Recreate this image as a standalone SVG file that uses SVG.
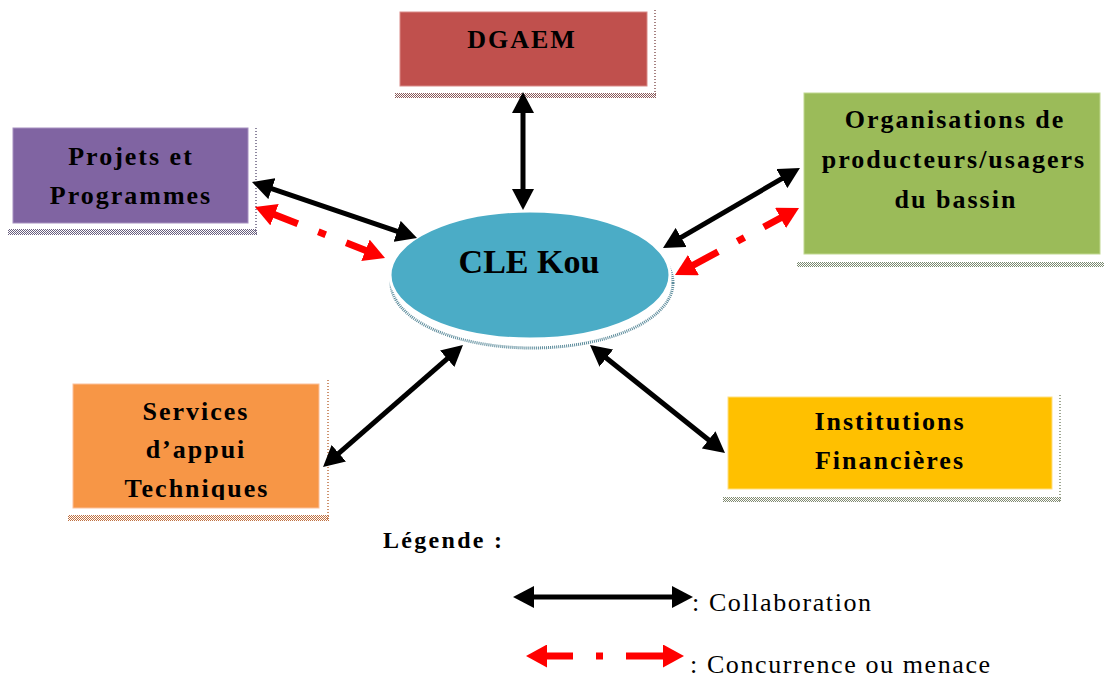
<svg xmlns="http://www.w3.org/2000/svg" width="1104" height="680" viewBox="0 0 1104 680">
<style>
.lbl{font-family:"Liberation Serif","Times New Roman",serif;font-weight:bold;font-size:26px;letter-spacing:2px;fill:#000;text-anchor:middle}
.leg{font-family:"Liberation Serif","Times New Roman",serif;font-size:26px;letter-spacing:1.6px;fill:#000}
.collab{fill:none;stroke:#000;stroke-width:5;marker-start:url(#hb);marker-end:url(#hb)}
.threat{fill:none;stroke:#f00;stroke-width:7;marker-start:url(#hr);marker-end:url(#hr)}
.vdot{fill:none;stroke-width:1.5;stroke-dasharray:1 2}
</style>
<defs>
<marker id="hb" markerUnits="userSpaceOnUse" markerWidth="22" markerHeight="22" viewBox="0 0 22 22" refX="1" refY="11" orient="auto-start-reverse"><path d="M0,0 L21,11 L0,22 z" fill="#000"/></marker>
<marker id="hr" markerUnits="userSpaceOnUse" markerWidth="22" markerHeight="23" viewBox="0 0 22 23" refX="1" refY="11.5" orient="auto-start-reverse"><path d="M0,0 L21,11.5 L0,23 z" fill="#f00"/></marker>
<pattern id="pR" width="2" height="2" patternUnits="userSpaceOnUse"><rect width="1" height="1" fill="#8a5a5a"/><rect x="1" y="1" width="1" height="1" fill="#8a5a5a"/></pattern>
<pattern id="pP" width="2" height="2" patternUnits="userSpaceOnUse"><rect width="1" height="1" fill="#6a6080"/><rect x="1" y="1" width="1" height="1" fill="#6a6080"/></pattern>
<pattern id="pG" width="2" height="2" patternUnits="userSpaceOnUse"><rect width="1" height="1" fill="#7a8a70"/><rect x="1" y="1" width="1" height="1" fill="#7a8a70"/></pattern>
<pattern id="pO" width="2" height="2" patternUnits="userSpaceOnUse"><rect width="1" height="1" fill="#c07040"/><rect x="1" y="1" width="1" height="1" fill="#c07040"/></pattern>
<pattern id="pY" width="2" height="2" patternUnits="userSpaceOnUse"><rect width="1" height="1" fill="#808a70"/><rect x="1" y="1" width="1" height="1" fill="#808a70"/></pattern>
<clipPath id="clipS"><rect x="73" y="384" width="246" height="116"/></clipPath>
</defs>
<rect width="1104" height="680" fill="#fff"/>

<g id="dgaem">
<rect x="395" y="93" width="261" height="5" fill="url(#pR)"/>
<line x1="655" y1="10" x2="655" y2="97" class="vdot" stroke="#8a5a5a"/>
<rect x="400" y="12" width="247" height="74" fill="#C0504D" stroke="#d98a88" stroke-width="1"/>
<text x="522" y="48" class="lbl">DGAEM</text>
</g>

<g id="projets">
<rect x="8" y="229" width="249" height="6" fill="url(#pP)"/>
<line x1="256" y1="128" x2="256" y2="234" class="vdot" stroke="#6a6080"/>
<rect x="13" y="128" width="235" height="95" fill="#8064A2" stroke="#a690c0" stroke-width="1"/>
<text x="131" y="165" class="lbl">Projets et</text>
<text x="131" y="204" class="lbl">Programmes</text>
</g>

<g id="organisations">
<rect x="797" y="262" width="307" height="5" fill="url(#pG)"/>
<rect x="804" y="93" width="296" height="161" fill="#9BBB59" stroke="#c0d890" stroke-width="1"/>
<text x="955" y="128" class="lbl">Organisations de</text>
<text x="954" y="168" class="lbl">producteurs/usagers</text>
<text x="956" y="208" class="lbl">du bassin</text>
</g>

<g id="services">
<rect x="68" y="515" width="261" height="6" fill="url(#pO)"/>
<line x1="328" y1="380" x2="328" y2="520" class="vdot" stroke="#c07040"/>
<rect x="73" y="384" width="246" height="124" fill="#F79646" stroke="#fbc09a" stroke-width="1"/>
<g clip-path="url(#clipS)">
<text x="196" y="420" class="lbl">Services</text>
<text x="196" y="458" class="lbl">d’appui</text>
<text x="197" y="497" class="lbl">Techniques</text>
</g>
</g>

<g id="institutions">
<rect x="723" y="497" width="338" height="5" fill="url(#pY)"/>
<line x1="1060" y1="395" x2="1060" y2="502" class="vdot" stroke="#808a70"/>
<rect x="728" y="397" width="324" height="92" fill="#FFC000" stroke="#ffe080" stroke-width="1"/>
<text x="890" y="430" class="lbl">Institutions</text>
<text x="890" y="469" class="lbl">Financières</text>
</g>

<g id="cle">
<ellipse cx="532" cy="283" rx="141" ry="65" fill="none" stroke="#5a8a9a" stroke-width="3" stroke-dasharray="1 1"/>
<ellipse cx="530" cy="275" rx="140" ry="64" fill="#4BACC6" stroke="#fff" stroke-width="3"/>
<text x="529" y="273" style="font-family:'Liberation Serif','Times New Roman',serif;font-weight:bold;font-size:34px;text-anchor:middle;fill:#000">CLE Kou</text>
</g>

<g id="connectors">
<line x1="523" y1="112" x2="523" y2="190" class="collab"/>
<line x1="270.9" y1="188.4" x2="398.1" y2="231.6" class="collab"/>
<line x1="782.7" y1="178.1" x2="680.3" y2="237.9" class="collab"/>
<line x1="338.1" y1="453.9" x2="447.9" y2="358.1" class="collab"/>
<line x1="605.6" y1="357.5" x2="709.4" y2="440.5" class="collab"/>
<line x1="273.6" y1="214.3" x2="366.4" y2="250.7" class="threat" stroke-dasharray="26 22 8 22 200"/>
<line x1="781.4" y1="217.5" x2="692.6" y2="265.5" class="threat" stroke-dasharray="20 22 8 22 200"/>
</g>

<g id="legend">
<text x="383" y="548" style="font-family:'Liberation Serif','Times New Roman',serif;font-weight:bold;font-size:24px;letter-spacing:2.3px;fill:#000">Légende :</text>
<line x1="533" y1="597" x2="673" y2="597" class="collab"/>
<text x="692" y="611" class="leg">: Collaboration</text>
<line x1="546" y1="656" x2="664" y2="656" class="threat" stroke-dasharray="27 23 7 23 200"/>
<text x="690" y="673" class="leg">: Concurrence ou menace</text>
</g>
</svg>
